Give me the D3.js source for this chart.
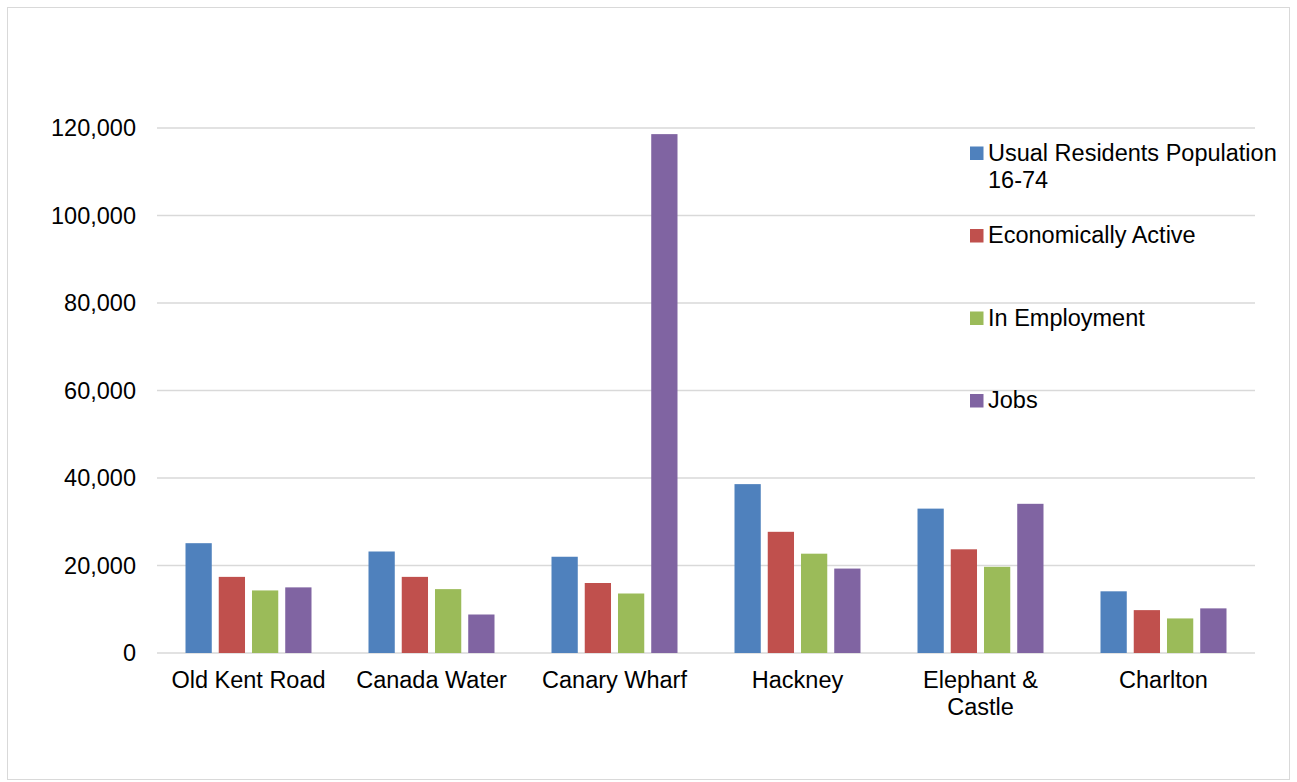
<!DOCTYPE html>
<html>
<head>
<meta charset="utf-8">
<script src="https://cdn.jsdelivr.net/npm/d3@7"></script>
<style>
  html, body { margin: 0; padding: 0; background: #fff; }
  svg { display: block; font-family: "Liberation Sans", Arial, sans-serif; }
</style>
</head>
<body>
<svg id="chart" width="1297" height="782"></svg>
<script>
// Areas compared
const categories = ["Old Kent Road", "Canada Water", "Canary Wharf", "Hackney", "Elephant & Castle", "Charlton"];
// Series names and colours
const seriesNames = ["Usual Residents Population 16-74", "Economically Active", "In Employment", "Jobs"];
const seriesColors = ["#4F81BD", "#C0504D", "#9BBB59", "#8064A2"];
// Values per series, in category order
const residents = [25100, 23200, 22000, 38600, 33000, 14100];
const econActive = [17400, 17400, 16000, 27700, 23700, 9800];
const inEmployment = [14300, 14600, 13600, 22700, 19700, 7900];
const jobs = [15000, 8800, 118600, 19300, 34100, 10200];
const seriesValues = [residents, econActive, inEmployment, jobs];
// Axis ticks
const yTicks = [0, 20000, 40000, 60000, 80000, 100000, 120000];

const svg = d3.select("#chart");
const W = 1297, H = 782;
const plot = { left: 157, right: 1255, top: 128, bottom: 653 };
const fontSize = 23.5;
const gridColor = "#D9D9D9";

// Outer chart frame
svg.append("rect")
  .attr("x", 7.5).attr("y", 7.5)
  .attr("width", 1282).attr("height", 772)
  .attr("fill", "#fff").attr("stroke", gridColor).attr("stroke-width", 1);

const x0 = d3.scaleBand().domain(categories).range([plot.left, plot.right]).padding(0);
const groupPad = 28.5;
const x1 = d3.scaleBand().domain(d3.range(seriesNames.length))
  .range([groupPad, x0.bandwidth() - groupPad]).paddingInner(0.21).paddingOuter(0);
const y = d3.scaleLinear().domain([0, 120000]).range([plot.bottom, plot.top]);

// Horizontal gridlines
svg.append("g")
  .selectAll("line").data(yTicks).join("line")
  .attr("x1", plot.left).attr("x2", plot.right)
  .attr("y1", d => y(d)).attr("y2", d => y(d))
  .attr("stroke", gridColor).attr("stroke-width", 1.4);

// Y axis labels
const yAxis = d3.axisLeft(y).tickValues(yTicks).tickFormat(d3.format(",")).tickSize(0).tickPadding(0);
const yg = svg.append("g").attr("transform", `translate(136,0)`).call(yAxis);
yg.select(".domain").remove();
yg.selectAll("text")
  .attr("font-size", fontSize).attr("fill", "#000")
  .attr("font-family", "'Liberation Sans', Arial, sans-serif")
  .attr("dy", "0.33em");

// Bars
const rows = categories.map((c, i) => ({ c, vals: seriesValues.map(s => s[i]) }));
const groups = svg.append("g").selectAll("g").data(rows).join("g")
  .attr("transform", d => `translate(${x0(d.c)},0)`);
groups.selectAll("rect").data(d => d.vals.map((v, k) => ({ v, k }))).join("rect")
  .attr("x", d => x1(d.k))
  .attr("width", x1.bandwidth())
  .attr("y", d => y(d.v))
  .attr("height", d => y(0) - y(d.v))
  .attr("fill", d => seriesColors[d.k]);

// Category labels (wrapped to the band width)
const xLabelLines = {
  "Elephant & Castle": ["Elephant &", "Castle"]
};
const xl = svg.append("g");
categories.forEach(c => {
  const lines = xLabelLines[c] || [c];
  const t = xl.append("text")
    .attr("x", x0(c) + x0.bandwidth() / 2)
    .attr("y", 688)
    .attr("text-anchor", "middle")
    .attr("font-size", fontSize).attr("fill", "#000");
  lines.forEach((ln, i) => {
    t.append("tspan").attr("x", x0(c) + x0.bandwidth() / 2).attr("dy", i === 0 ? 0 : 27).text(ln);
  });
});

// Legend
const legendLines = [["Usual Residents Population", "16-74"], ["Economically Active"], ["In Employment"], ["Jobs"]];
const lg = svg.append("g");
legendLines.forEach((lines, k) => {
  const baseY = 160.5 + k * 82.5;
  lg.append("rect")
    .attr("x", 970).attr("y", baseY - 14)
    .attr("width", 13.5).attr("height", 13.5)
    .attr("fill", seriesColors[k]);
  const t = lg.append("text")
    .attr("x", 988).attr("y", baseY)
    .attr("font-size", fontSize).attr("fill", "#000");
  lines.forEach((ln, i) => {
    t.append("tspan").attr("x", 988).attr("dy", i === 0 ? 0 : 27.5).text(ln);
  });
});
</script>
</body>
</html>
